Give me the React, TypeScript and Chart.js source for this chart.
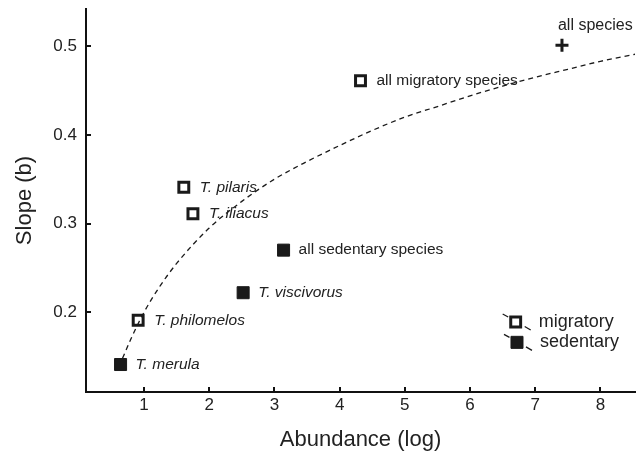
import React, { useEffect, useRef } from "react";
import { Chart, registerables } from "chart.js";

Chart.register(...registerables);

const FONT = '"Liberation Sans", Arial, Helvetica, sans-serif';
const TEXT = "#222";
const INK = "#1a1a1a";

const xTicks = [1, 2, 3, 4, 5, 6, 7, 8];
const yTicks = [0.2, 0.3, 0.4, 0.5];

const migratoryNames = ["T. philomelos", "T. pilaris", "T. iliacus", "all migratory species"];
const migratoryX = [0.91, 1.61, 1.75, 4.32];
const migratoryY = [0.191, 0.341, 0.311, 0.461];

const sedentaryNames = ["T. merula", "T. viscivorus", "all sedentary species"];
const sedentaryX = [0.64, 2.52, 3.14];
const sedentaryY = [0.141, 0.222, 0.27];

const allNames = ["all species"];
const allX = [7.41];
const allY = [0.501];

const legendNames = ["migratory", "sedentary"];
const legendX = [6.7, 6.72];
const legendY = [0.189, 0.166];

const fitX = [0.67, 0.8, 1, 1.25, 1.5, 2, 2.5, 3, 3.5, 4, 4.5, 5, 5.5, 6, 6.5, 7, 7.5, 8, 8.53];
const fitY = [0.148, 0.17, 0.2, 0.23, 0.255, 0.295, 0.325, 0.35, 0.37, 0.388, 0.405, 0.42, 0.432, 0.444, 0.455, 0.465, 0.474, 0.483, 0.491];

const pts = (xs: number[], ys: number[]) => xs.map((x, i) => ({ x, y: ys[i] }));

const labelPlugin = {
  id: "pointLabels",
  beforeDatasetsDraw(chart: any) {
    const ctx = chart.ctx;
    chart.data.datasets.forEach((ds: any, i: number) => {
      if (!ds.legendDash) return;
      const meta = chart.getDatasetMeta(i);
      meta.data.forEach((pt: any) => {
        ctx.save();
        ctx.strokeStyle = INK;
        ctx.lineWidth = 1.3;
        ctx.beginPath();
        ctx.moveTo(pt.x - 13, pt.y - 8);
        ctx.lineTo(pt.x - 7.5, pt.y - 5);
        ctx.moveTo(pt.x + 9, pt.y + 4.5);
        ctx.lineTo(pt.x + 15, pt.y + 8);
        ctx.stroke();
        ctx.restore();
      });
    });
  },
  afterDatasetsDraw(chart: any) {
    const ctx = chart.ctx;
    chart.data.datasets.forEach((ds: any, i: number) => {
      if (!ds.names) return;
      const meta = chart.getDatasetMeta(i);
      meta.data.forEach((pt: any, j: number) => {
        const name: string = ds.names[j];
        const italic = name.startsWith("T.");
        ctx.save();
        ctx.font = `${italic ? "italic " : ""}${ds.labelSize}px ${FONT}`;
        ctx.fillStyle = TEXT;
        ctx.textBaseline = "middle";
        ctx.textAlign = "left";
        ctx.fillText(name, pt.x + ds.labelDx, pt.y + ds.labelDy);
        ctx.restore();
      });
    });
  },
  afterDraw(chart: any) {
    const ctx = chart.ctx;
    const xs = chart.scales.x;
    const ys = chart.scales.y;
    const area = chart.chartArea;
    ctx.save();
    ctx.strokeStyle = "#111";
    ctx.lineWidth = 2;
    ctx.beginPath();
    xTicks.forEach((v) => {
      const px = Math.round(xs.getPixelForValue(v));
      ctx.moveTo(px, area.bottom);
      ctx.lineTo(px, area.bottom - 5);
    });
    yTicks.forEach((v) => {
      const py = Math.round(ys.getPixelForValue(v));
      ctx.moveTo(area.left, py);
      ctx.lineTo(area.left + 5, py);
    });
    ctx.stroke();
    ctx.restore();
  },
};

export default function App() {
  const ref = useRef<HTMLCanvasElement>(null);
  useEffect(() => {
    const canvas = ref.current!;
    const chart = new Chart(canvas, {
      type: "scatter",
      data: {
        datasets: [
          {
            data: pts(fitX, fitY),
            showLine: true,
            borderColor: INK,
            borderWidth: 1.3,
            borderDash: [5, 4],
            pointRadius: 0,
            cubicInterpolationMode: "monotone",
            order: 0,
          } as any,
          {
            data: pts(migratoryX, migratoryY),
            pointStyle: "rect",
            pointRadius: 7,
            pointBackgroundColor: "#fff",
            pointBorderColor: INK,
            pointBorderWidth: 3,
            names: migratoryNames,
            labelSize: 15.5,
            labelDx: 16,
            labelDy: 0,
            order: 1,
          } as any,
          {
            data: pts(sedentaryX, sedentaryY),
            pointStyle: "rect",
            pointRadius: 8.5,
            pointBackgroundColor: INK,
            pointBorderColor: INK,
            pointBorderWidth: 1,
            names: sedentaryNames,
            labelSize: 15.5,
            labelDx: 15,
            labelDy: 0,
            order: 1,
          } as any,
          {
            data: pts(allX, allY),
            pointStyle: "cross",
            pointRadius: 6.5,
            pointBorderColor: INK,
            pointBorderWidth: 3,
            names: allNames,
            labelSize: 16,
            labelDx: -4,
            labelDy: -20,
            order: 1,
          } as any,
          {
            data: pts(legendX, legendY),
            pointStyle: "rect",
            pointRadius: [7, 8.5],
            pointBackgroundColor: ["#fff", INK],
            pointBorderColor: INK,
            pointBorderWidth: [3, 1],
            names: legendNames,
            labelSize: 18,
            labelDx: 23,
            labelDy: 0,
            legendDash: true,
            order: 1,
          } as any,
        ],
      },
      options: {
        responsive: true,
        maintainAspectRatio: false,
        animation: false,
        layout: { autoPadding: false, padding: { top: 9, right: 3, left: 0, bottom: 0 } },
        plugins: {
          legend: { display: false },
          tooltip: { enabled: false },
        },
        scales: {
          x: {
            type: "linear",
            min: 0.11,
            max: 8.53,
            afterBuildTicks: (s: any) => {
              s.ticks = xTicks.map((v) => ({ value: v }));
            },
            afterFit: (s: any) => {
              s.height = 60;
              s.paddingLeft = 0;
              s.paddingRight = 0;
            },
            grid: { display: true, drawOnChartArea: false, drawTicks: false },
            border: { display: true, color: "#111", width: 2 },
            ticks: {
              padding: 3,
              color: TEXT,
              font: { family: FONT, size: 17 },
              callback: (v: any) => String(v),
            },
            title: {
              display: true,
              text: "Abundance (log)",
              color: TEXT,
              font: { family: FONT, size: 22, lineHeight: 1 },
              padding: { top: 0, bottom: 1 },
            },
          },
          y: {
            type: "linear",
            min: 0.11,
            max: 0.542,
            afterBuildTicks: (s: any) => {
              s.ticks = yTicks.map((v) => ({ value: v }));
            },
            afterFit: (s: any) => {
              s.width = 86;
              s.paddingTop = 0;
              s.paddingBottom = 0;
            },
            grid: { display: true, drawOnChartArea: false, drawTicks: false },
            border: { display: true, color: "#111", width: 2 },
            ticks: {
              padding: 9,
              color: TEXT,
              font: { family: FONT, size: 17 },
              callback: (v: any) => Number(v).toFixed(1),
            },
            title: {
              display: true,
              text: "Slope (b)",
              color: TEXT,
              font: { family: FONT, size: 22, lineHeight: 1 },
              padding: { top: 14, bottom: 0 },
            },
          },
        },
      } as any,
      plugins: [labelPlugin as any],
    });
    return () => chart.destroy();
  }, []);
  return (
    <div style={{ position: "fixed", left: 0, top: 0, width: 638, height: 452, background: "#fff" }}>
      <canvas ref={ref} />
    </div>
  );
}
